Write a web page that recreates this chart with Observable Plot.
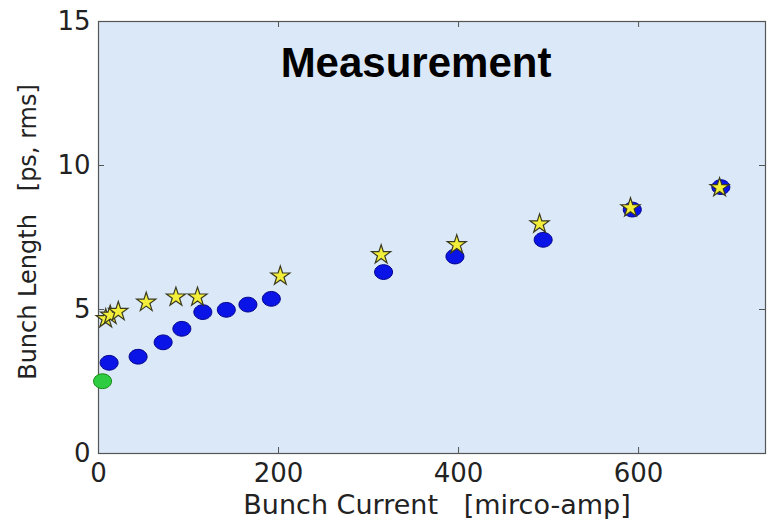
<!DOCTYPE html>
<html>
<head>
<meta charset="utf-8">
<script src="https://cdn.jsdelivr.net/npm/d3@7"></script>
<script src="https://cdn.jsdelivr.net/npm/@observablehq/plot@0.6"></script>
<style>
  html, body { margin: 0; padding: 0; background: #fff; }
  #chart svg text { white-space: pre; }
</style>
</head>
<body>
<div id="chart"></div>
<script>
// Bunch length vs. bunch current (measurement)
const circleCurrent = [11.8, 44, 71.8, 92.6, 115.9, 142, 166, 192, 316.7, 396, 494, 593, 691.4];
const circleLength  = [3.15, 3.36, 3.86, 4.33, 4.91, 4.99, 5.17, 5.37, 6.30, 6.84, 7.42, 8.47, 9.25];

const starCurrent = [8, 13, 22, 53, 86, 110, 202, 314, 398, 490, 591, 690];
const starLength  = [4.68, 4.80, 4.93, 5.25, 5.43, 5.43, 6.16, 6.90, 7.25, 7.97, 8.53, 9.23];

const zeroCurrent = [4.5];
const zeroLength  = [2.51];

const xTicks = [0, 200, 400, 600];
const yTicks = [0, 5, 10, 15];

const titleText = "Measurement";
const xLabel = "Bunch Current   [mirco-amp]";
const yLabel = "Bunch Length   [ps, rms]";

const W = 769, H = 519;
const mL = 98, mR = 4, mT = 21, mB = 66;
const innerW = W - mL - mR, innerH = H - mT - mB;
const tickLen = 6;

const pts = (xs, ys) => xs.map((x, i) => ({x, y: ys[i]}));

// slightly flattened circle marker
const ellipse = {
  draw(ctx, size) {
    const rx = Math.sqrt(size / Math.PI), ry = rx * 0.82, k = 0.5523;
    ctx.moveTo(rx, 0);
    ctx.bezierCurveTo(rx, k * ry, k * rx, ry, 0, ry);
    ctx.bezierCurveTo(-k * rx, ry, -rx, k * ry, -rx, 0);
    ctx.bezierCurveTo(-rx, -k * ry, -k * rx, -ry, 0, -ry);
    ctx.bezierCurveTo(k * rx, -ry, rx, -k * ry, rx, 0);
    ctx.closePath();
  }
};

const chart = Plot.plot({
  width: W, height: H,
  marginLeft: mL, marginRight: mR, marginTop: mT, marginBottom: mB,
  style: {fontFamily: "DejaVu Sans", background: "#fff", color: "#222"},
  x: {domain: [0, 741]},
  y: {domain: [0, 15]},
  marks: [
    Plot.frame({fill: "#dbe8f7"}),
    Plot.tickX(xTicks, {x: d => d, insetTop: innerH - tickLen, stroke: "#555"}),
    Plot.tickX(xTicks, {x: d => d, insetBottom: innerH - tickLen, stroke: "#555"}),
    Plot.tickY(yTicks, {y: d => d, insetRight: innerW - tickLen, stroke: "#555"}),
    Plot.tickY(yTicks, {y: d => d, insetLeft: innerW - tickLen, stroke: "#555"}),
    Plot.frame({stroke: "#555", strokeWidth: 1.2}),
    Plot.axisX(xTicks, {tickSize: 0, tickPadding: 10, fontSize: 26, label: null, fill: "#222"}),
    Plot.axisY(yTicks, {tickSize: 0, tickPadding: 8, fontSize: 26, label: null, fill: "#222"}),
    Plot.dot(pts(circleCurrent, circleLength), {x: "x", y: "y", symbol: ellipse, r: 9, fill: "#0b14e6", stroke: "#00008a", strokeWidth: 1}),
    Plot.dot(pts(zeroCurrent, zeroLength), {x: "x", y: "y", symbol: ellipse, r: 9, fill: "#2ecc40", stroke: "#138a13", strokeWidth: 1}),
    Plot.dot(pts(starCurrent, starLength), {x: "x", y: "y", symbol: "star", r: 6, fill: "#f3ee3a", stroke: "#3a3a20", strokeWidth: 1.2}),
    Plot.text([titleText], {text: d => d, frameAnchor: "top", dx: -16, dy: 26, lineAnchor: "top", fontSize: 42, fontWeight: "bold", fontFamily: "Liberation Sans", fill: "#000"}),
    Plot.text([xLabel], {text: d => d, frameAnchor: "bottom", textAnchor: "middle", dx: 5, dy: 60, lineAnchor: "bottom", fontSize: 27, fill: "#222"}),
    Plot.text([yLabel], {text: d => d, frameAnchor: "left", textAnchor: "middle", rotate: -90, dx: -63, dy: -5.5, lineAnchor: "bottom", fontSize: 24, fill: "#222"})
  ]
});
document.getElementById("chart").appendChild(chart);
</script>
</body>
</html>
